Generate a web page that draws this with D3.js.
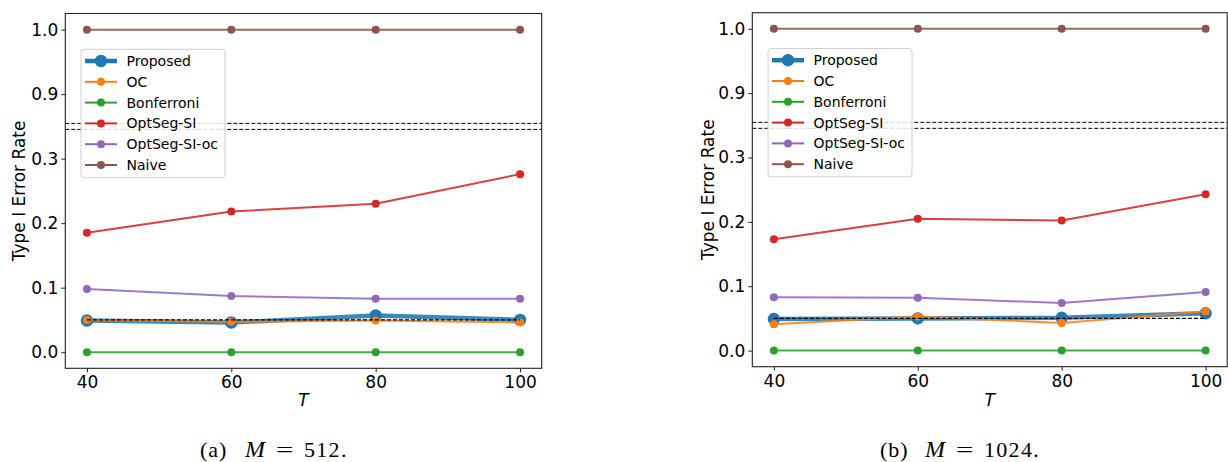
<!DOCTYPE html>
<html>
<head>
<meta charset="utf-8">
<script src="https://cdn.jsdelivr.net/npm/d3@7"></script>
<style>
  html, body { margin: 0; padding: 0; background: #fff; }
  svg { display: block; }
</style>
</head>
<body>
<svg id="fig" width="1228" height="462"></svg>
<script>
// ---- data ----
const T = [40, 60, 80, 100];
const methods = ["Proposed", "OC", "Bonferroni", "OptSeg-SI", "OptSeg-SI-oc", "Naive"];
const yTicks = [0.0, 0.1, 0.2, 0.3, 0.9, 1.0];
const yTickLabels = ["0.0", "0.1", "0.2", "0.3", "0.9", "1.0"];
const xTicks = [40, 60, 80, 100];
const alphaLevel = 0.05;

// M = 512
const proposed512   = [0.049, 0.046, 0.057, 0.050];
const oc512         = [0.050, 0.047, 0.049, 0.046];
const bonferroni512 = [0.000, 0.000, 0.000, 0.000];
const optseg512     = [0.185, 0.218, 0.230, 0.276];
const optsegOc512   = [0.098, 0.087, 0.083, 0.083];
const naive512      = [1.000, 1.000, 1.000, 1.000];

// M = 1024
const proposed1024   = [0.049, 0.050, 0.051, 0.058];
const oc1024         = [0.041, 0.053, 0.043, 0.061];
const bonferroni1024 = [0.000, 0.000, 0.000, 0.000];
const optseg1024     = [0.173, 0.205, 0.202, 0.243];
const optsegOc1024   = [0.083, 0.082, 0.074, 0.091];
const naive1024      = [1.000, 1.000, 1.000, 1.000];

// ---- styling ----
const colors = ["#1f77b4", "#ff7f0e", "#2ca02c", "#d62728", "#9467bd", "#8c564b"];
const lineW  = [4.5, 2, 2, 2, 2, 2];
const markR  = [6.2, 4, 4, 4, 4, 4];

const panels = [
  { tag: "(a)", mValue: "512.", series: [proposed512, oc512, bonferroni512, optseg512, optsegOc512, naive512],
    left: 65.3, right: 541.7, top: 13.5, bottom: 368.3, ylabX: 19, capX: 200 },
  { tag: "(b)", mValue: "1024.", series: [proposed1024, oc1024, bonferroni1024, optseg1024, optsegOc1024, naive1024],
    left: 752.3, right: 1227.2, top: 12.7, bottom: 366.7, ylabX: 707.5, capX: 880 }
];

// the y axis is broken between 0.3 and 0.9: values above the gap are shifted down by 0.5
const gapShift = 0.5;
const fold = v => (v > 0.6 ? v - gapShift : v);

const svg = d3.select("#fig");
const sans = "DejaVu Sans, sans-serif";
const serif = "Liberation Serif, serif";

panels.forEach(p => {
  const g = svg.append("g");
  const x = d3.scaleLinear().domain([37, 103]).range([p.left, p.right]);
  const y = d3.scaleLinear().domain([-0.025, 0.525]).range([p.bottom, p.top]);

  // axes
  const yAxis = d3.axisLeft(y)
    .tickValues(yTicks.map(fold))
    .tickFormat((d, i) => yTickLabels[i])
    .tickSize(4).tickPadding(3);
  const xAxis = d3.axisBottom(x)
    .tickValues(xTicks)
    .tickFormat(d3.format("d"))
    .tickSize(4).tickPadding(4);

  const ya = g.append("g").attr("transform", `translate(${p.left},0)`).call(yAxis);
  const xa = g.append("g").attr("transform", `translate(0,${p.bottom})`).call(xAxis);
  [ya, xa].forEach(a => {
    a.select(".domain").remove();
    a.selectAll(".tick line").attr("stroke", "#222").attr("stroke-width", 1);
    a.selectAll(".tick text").attr("fill", "#000").style("font-family", sans).style("font-size", "17px");
  });

  // series lines and markers
  const line = d3.line().x((d, i) => x(T[i])).y(d => y(fold(d)));
  p.series.forEach((vals, k) => {
    const s = g.append("g");
    s.append("path").datum(vals)
      .attr("d", line)
      .attr("fill", "none")
      .attr("stroke", colors[k])
      .attr("stroke-width", lineW[k])
      .attr("stroke-linejoin", "round")
      .attr("stroke-opacity", 0.88);
    s.selectAll("circle").data(vals).join("circle")
      .attr("cx", (d, i) => x(T[i]))
      .attr("cy", d => y(fold(d)))
      .attr("r", markR[k])
      .attr("fill", colors[k]);
  });

  // nominal level reference
  g.append("line")
    .attr("x1", x(T[0])).attr("x2", x(T[T.length - 1]))
    .attr("y1", y(alphaLevel)).attr("y2", y(alphaLevel))
    .attr("stroke", "#000").attr("stroke-width", 1.2)
    .attr("stroke-dasharray", "4,2");

  // axis break markers
  const mid = y((0.3 + fold(0.9)) / 2);
  [mid - 3, mid + 3].forEach(yy => {
    g.append("line")
      .attr("x1", p.left).attr("x2", p.right)
      .attr("y1", yy).attr("y2", yy)
      .attr("stroke", "#000").attr("stroke-width", 1)
      .attr("stroke-dasharray", "4,2");
  });

  // frame
  g.append("rect")
    .attr("x", p.left).attr("y", p.top)
    .attr("width", p.right - p.left).attr("height", p.bottom - p.top)
    .attr("fill", "none").attr("stroke", "#222").attr("stroke-width", 1.1);

  // legend
  const lg = g.append("g").attr("transform", `translate(${p.left + 15.7},${p.top + 35.8})`);
  lg.append("rect")
    .attr("width", 144).attr("height", 128.4).attr("rx", 3)
    .attr("fill", "#fff").attr("fill-opacity", 0.85)
    .attr("stroke", "#d0d0d0").attr("stroke-width", 1);
  methods.forEach((m, k) => {
    const cy = 11.7 + k * 20.8;
    lg.append("line").attr("x1", 4).attr("x2", 36).attr("y1", cy).attr("y2", cy)
      .attr("stroke", colors[k]).attr("stroke-width", lineW[k]);
    lg.append("circle").attr("cx", 20).attr("cy", cy).attr("r", markR[k]).attr("fill", colors[k]);
    lg.append("text").attr("x", 45.5).attr("y", cy).attr("dy", "0.36em")
      .style("font-family", sans).style("font-size", "14px").attr("fill", "#000")
      .text(m);
  });

  // axis titles
  g.append("text")
    .attr("transform", `translate(${p.ylabX},${(p.top + p.bottom) / 2}) rotate(-90)`)
    .attr("text-anchor", "middle").attr("dy", "0.36em")
    .style("font-family", sans).style("font-size", "17px").attr("fill", "#000")
    .text("Type I Error Rate");
  g.append("text")
    .attr("x", (p.left + p.right) / 2).attr("y", 406)
    .attr("text-anchor", "middle")
    .style("font-family", sans).style("font-size", "17px").style("font-style", "italic").attr("fill", "#000")
    .text("T");

  // caption: "(x) M = value."
  const cap = g.append("g").attr("transform", `translate(${p.capX},457)`)
    .style("font-family", serif).style("font-size", "22px").attr("fill", "#000");
  cap.append("text").attr("x", 0).style("letter-spacing", "1px").text(p.tag);
  cap.append("text").attr("x", 45).style("font-style", "italic").style("font-size", "24px").text("M");
  cap.append("text").attr("transform", "translate(76,0) scale(1.4,1)").text("=");
  cap.append("text").attr("x", 104).style("letter-spacing", "1.3px").text(p.mValue);
});
</script>
</body>
</html>
